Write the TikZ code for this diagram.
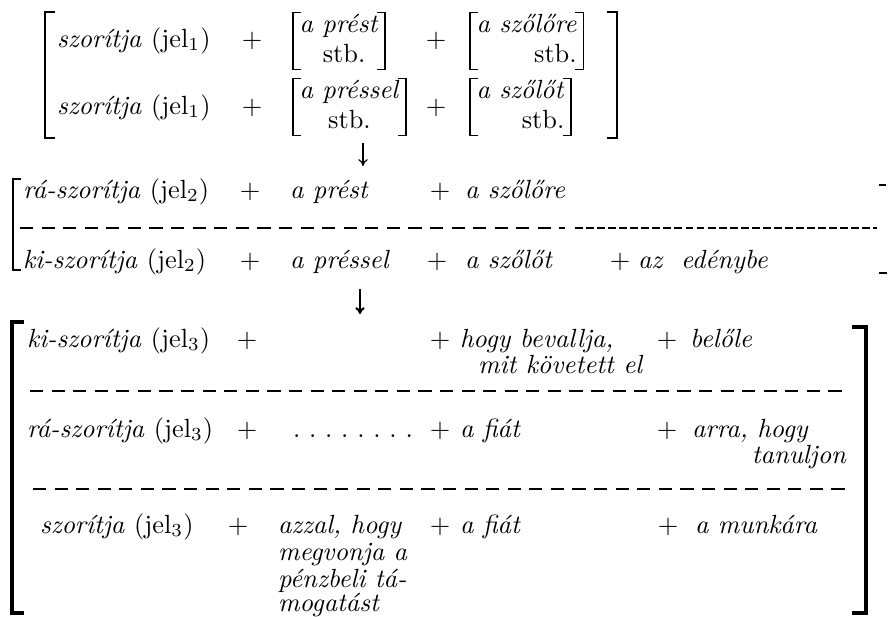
\documentclass[tikz,border=0pt]{standalone}
\usepackage{amsmath}
\usetikzlibrary{positioning, arrows.meta}
\newcommand{\jel}[1]{\textup{(jel$_{#1}$)}}
\newcommand{\stbtab}[3]{\renewcommand{\arraystretch}{0.95}\begin{tabular}{@{}#1@{}}\textit{#2}\\ #3\end{tabular}}

\begin{document}
\begin{tikzpicture}[x=0.38pt, y=-0.38pt, font=\normalsize, >={To[length=2.6pt, width=3.6pt]},
    every node/.style={inner sep=0pt, outer sep=0pt},
    txt/.style={anchor=base west, font=\itshape},
    plus/.style={anchor=base},
    stbnode/.style={anchor=west, inner xsep=2.5pt, inner ysep=-0.6pt},
    inbr/.style={line width=0.45pt},
    bigbr/.style={line width=1.1pt},
    midbr/.style={line width=0.9pt},
    botbr/.style={line width=1.2pt},
    sepline/.style={line width=0.4pt, dash pattern=on 5pt off 3.2pt}]
  \useasboundingbox (0,0) rectangle (890,616);

  \node[txt] (v11) at (57,47) {szorítja \jel{1}};
  \node[plus] (p11) at (252,47) {$+$};
  \node[stbnode] (b11) at (293,41) {\stbtab{l}{a prést\hspace{3pt}}{\hphantom{\textit{a }}stb.}};
  \node[plus] (p12) at (436,47) {$+$};
  \node[stbnode] (b12) at (470,41) {\stbtab{r}{a szőlőre}{stb.\hspace{3pt}}};
  \node[txt] (v21) at (57,114) {szorítja \jel{1}};
  \node[plus] (p21) at (252,114) {$+$};
  \node[stbnode] (b21) at (293,107) {\stbtab{c}{a préssel}{stb.}};
  \node[plus] (p22) at (436,114) {$+$};
  \node[stbnode] (b22) at (470,107) {\stbtab{r}{a szőlőt}{stb.}};
  \foreach \b in {b11,b12,b21,b22} {
    \draw[inbr] ([xshift=3pt]\b.north west) -- (\b.north west) -- (\b.south west) -- ([xshift=3pt]\b.south west);
    \draw[inbr] ([xshift=-3pt]\b.north east) -- (\b.north east) -- (\b.south east) -- ([xshift=-3pt]\b.south east);
  }
  \draw[bigbr] (55,12) -- (45,12) -- (45,138) -- (55,138);
  \draw[bigbr] (607,12) -- (617,12) -- (617,138) -- (607,138);

  \coordinate (a1s) at (363,143);
  \coordinate (a1e) at (363,166);
  \draw[->, line width=0.45pt] (a1s) -- (a1e);

  \node[txt] (v31) at (23,198) {rá-szorítja \jel{2}};
  \node[plus] (p31) at (250,198) {$+$};
  \node[txt] (n31) at (290,198) {a prést};
  \node[plus] (p32) at (440,198) {$+$};
  \node[txt] (n32) at (465,198) {a szőlőre};
  \draw[sepline] (20,228) -- (565,228);
  \draw[sepline, dash pattern=on 3pt off 1.2pt] (575,228) -- (877,228);
  \node[txt] (v41) at (23,268) {ki-szorítja \jel{2}};
  \node[plus] (p41) at (250,268) {$+$};
  \node[txt] (n41) at (290,268) {a préssel};
  \node[plus] (p42) at (437,268) {$+$};
  \node[txt] (n42) at (465,268) {a szőlőt};
  \node[plus] (p43) at (620,268) {$+$};
  \node[txt] (n43) at (638,268) {az\ \ edénybe};
  \draw[midbr] (21,179) -- (13,179) -- (13,270) -- (21,270);
  \draw[midbr] (879,185) -- (886,185);
  \draw[midbr] (879,273) -- (887,273);

  \coordinate (a2s) at (360,289);
  \coordinate (a2e) at (360,314);
  \draw[->, line width=0.8pt] (a2s) -- (a2e);

  \node[txt] (v51) at (27,347) {ki-szorítja \jel{3}};
  \node[plus] (p51) at (247,347) {$+$};
  \node[plus] (p52) at (440,347) {$+$};
  \node[txt] (n52) at (460,347) {hogy bevallja,};
  \node[txt] (n52b) at (478,373) {mit követett el};
  \node[plus] (p53) at (667,347) {$+$};
  \node[txt] (n53) at (690,347) {belőle};
  \draw[sepline] (30,391) -- (847,391);
  \node[txt] (v61) at (27,437) {rá-szorítja \jel{3}};
  \node[plus] (p61) at (247,437) {$+$};
  \node[anchor=base west] (n61) at (293,437) {.\ .\ .\ .\ .\ .\ .\ .};
  \node[plus] (p62) at (440,437) {$+$};
  \node[txt] (n62) at (460,437) {a fiát};
  \node[plus] (p63) at (667,437) {$+$};
  \node[txt] (n63) at (692,437) {arra, hogy};
  \node[txt, anchor=base east] (n63b) at (846,463) {tanuljon};
  \draw[sepline] (33,489) -- (845,489);
  \node[txt] (v71) at (40,533) {szorítja \jel{3}};
  \node[plus] (p71) at (238,533) {$+$};
  \node[txt] (n71) at (278,533) {azzal, hogy};
  \node[txt] (n71b) at (278,560) {megvonja a};
  \node[txt] (n71c) at (278,587) {pénzbeli tá-};
  \node[txt] (n71d) at (278,611) {mogatást};
  \node[plus] (p72) at (440,533) {$+$};
  \node[txt] (n72) at (460,533) {a fiát};
  \node[plus] (p73) at (668,533) {$+$};
  \node[txt] (n73) at (695,533) {a munkára};
  \draw[botbr] (24,322) -- (12,322) -- (12,613) -- (24,613);
  \draw[botbr] (852,327) -- (866,327) -- (866,613) -- (852,613);
\end{tikzpicture}
\end{document}
